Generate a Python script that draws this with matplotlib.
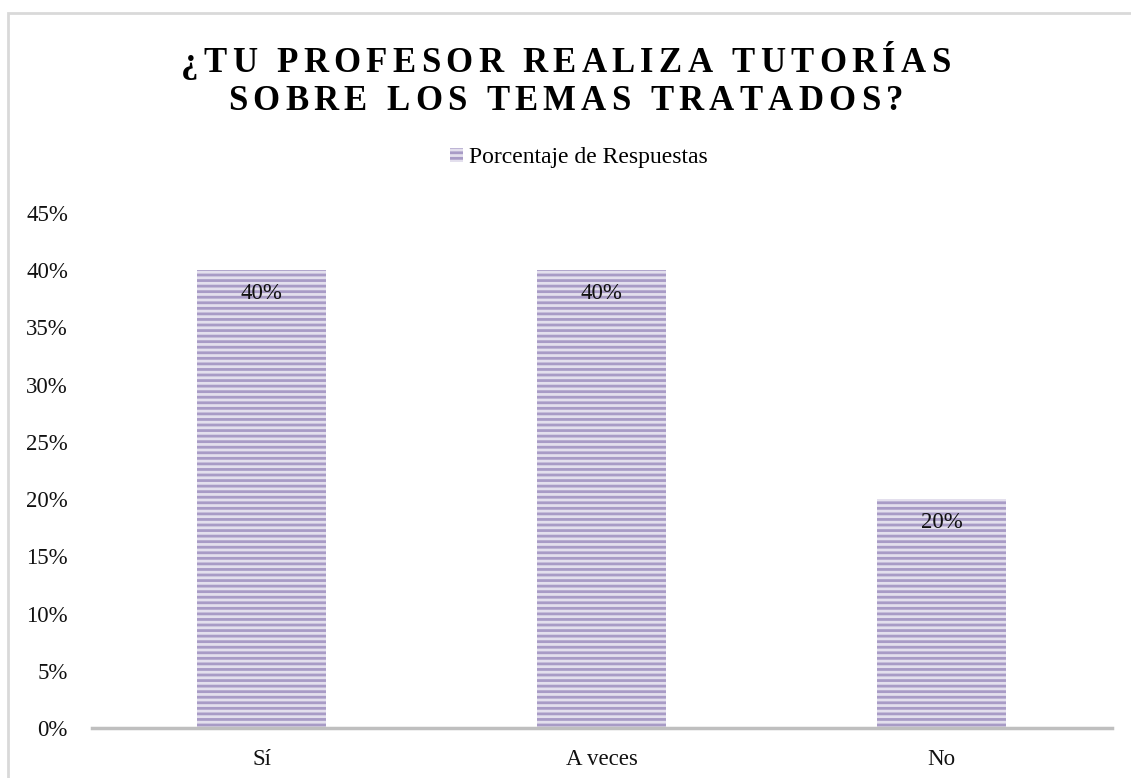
import matplotlib.pyplot as plt
from matplotlib.patches import Rectangle
from matplotlib.ticker import PercentFormatter

CATEGORIES = ["Sí", "A veces", "No"]
VALUES = [0.40, 0.40, 0.20]
LABELS = ["40%", "40%", "20%"]
SERIES = "Porcentaje de Respuestas"
TITLE = ["¿TU PROFESOR REALIZA TUTORÍAS", "SOBRE LOS TEMAS TRATADOS?"]

FILL = "#e3dfed"
STRIPE = "#a89bc6"
SERIF = ["Liberation Serif", "DejaVu Serif"]

plt.rcParams["hatch.linewidth"] = 2.0
plt.rcParams["hatch.color"] = STRIPE


def spaced_text(fig, text, y_px, size, gap_px):
    """Draws a centred line of text letter by letter with extra spacing"""
    renderer = fig.canvas.get_renderer()
    W, H = fig.bbox.width, fig.bbox.height
    pieces = []
    for ch in text:
        t = fig.text(0, 1 - y_px / H, ch, ha="left", va="center",
                     fontsize=size, fontweight="bold", family=SERIF)
        pieces.append((t, t.get_window_extent(renderer).width))
    total = sum(w for _, w in pieces) + gap_px * (len(pieces) - 1)
    x = (W - total) / 2
    for t, w in pieces:
        t.set_x(x / W)
        x += w + gap_px


def main():
    fig = plt.figure(figsize=(11.31, 7.78), dpi=100)
    fig.patches.append(Rectangle((8 / 1131, -0.1), 1.2, (778 - 13) / 778 + 0.1,
                                 transform=fig.transFigure, fill=False,
                                 edgecolor="#d9d9d9", linewidth=2))

    ax = fig.add_axes([91.5 / 1131, 50 / 778, 1020 / 1131, 515 / 778])
    x = range(len(CATEGORIES))
    bars = ax.bar(x, VALUES, width=0.38, color=FILL, hatch="---",
                  edgecolor=STRIPE, linewidth=0, label=SERIES)

    for b, lab in zip(bars, LABELS):
        ax.text(b.get_x() + b.get_width() / 2, b.get_height() - 0.011, lab,
                ha="center", va="top", fontsize=16.5, family=SERIF, color="#111111")

    ax.set_xlim(-0.5, 2.5)
    ax.set_ylim(0, 0.45)
    ax.set_yticks([i * 0.05 for i in range(10)])
    ax.yaxis.set_major_formatter(PercentFormatter(1.0, decimals=0))
    ax.set_xticks(list(x))
    ax.set_xticklabels(CATEGORIES)
    for lbl in ax.get_xticklabels() + ax.get_yticklabels():
        lbl.set_family(SERIF)
        lbl.set_fontsize(16.5)
        lbl.set_color("#111111")
    ax.tick_params(axis="both", length=0)
    ax.tick_params(axis="y", pad=17)
    ax.tick_params(axis="x", pad=15)
    for s in ["top", "right", "left"]:
        ax.spines[s].set_visible(False)
    ax.spines["bottom"].set_color("#bfbfbf")
    ax.spines["bottom"].set_linewidth(2.5)

    spaced_text(fig, TITLE[0], 64, 25, 5.3)
    spaced_text(fig, TITLE[1], 102, 25, 5.3)

    ax.legend(loc="center", bbox_to_anchor=(579 / 1131, 1 - 158 / 778),
              bbox_transform=fig.transFigure, frameon=False,
              prop={"family": SERIF, "size": 17}, handlelength=0.55,
              handleheight=0.55, handletextpad=0.25)

    fig.savefig("out.png", dpi=100)


if __name__ == "__main__":
    main()
